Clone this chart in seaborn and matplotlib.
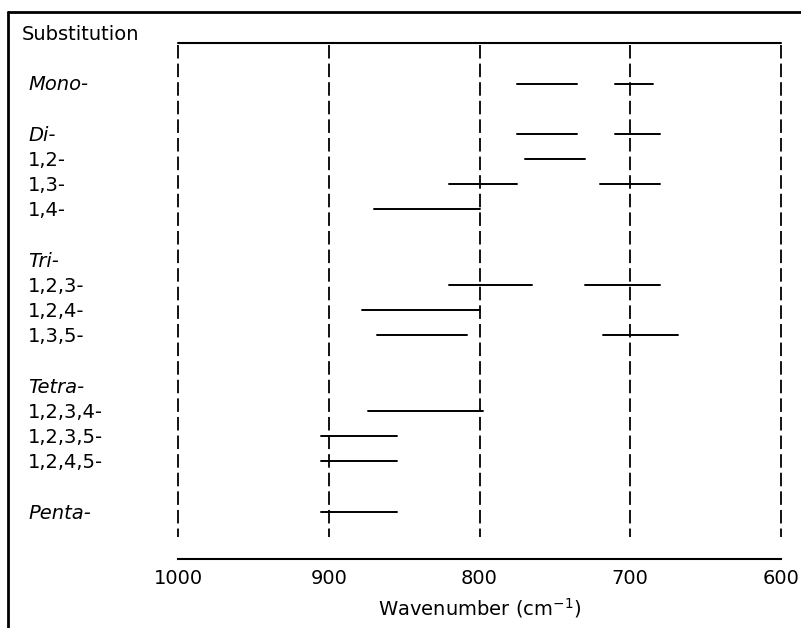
import matplotlib
matplotlib.use("Agg")
import matplotlib.pyplot as plt
import seaborn as sns
import pandas as pd
from matplotlib.lines import Line2D
from matplotlib.transforms import blended_transform_factory

# =========================
# DATA
# =========================
row_labels = ["Substitution", "Mono-", "Di-", "1,2-", "1,3-", "1,4-",
              "Tri-", "1,2,3-", "1,2,4-", "1,3,5-",
              "Tetra-", "1,2,3,4-", "1,2,3,5-", "1,2,4,5-", "Penta-"]
label_rows = [0, 2, 4, 5, 6, 7, 9, 10, 11, 12, 14, 15, 16, 17, 19]
italic_labels = ["Mono-", "Di-", "Tri-", "Tetra-", "Penta-"]

# band ranges (cm-1): row index, high end, low end
seg_rows = [2, 2, 4, 4, 5, 6, 6, 7, 10, 10, 11, 12, 12, 15, 16, 17, 19]
seg_high = [775, 710, 775, 710, 770, 820, 720, 870, 820, 730, 878, 868, 718, 874, 905, 905, 905]
seg_low = [735, 685, 735, 680, 730, 775, 680, 800, 765, 680, 800, 808, 668, 798, 855, 855, 855]

wn_ticks = [1000, 900, 800, 700, 600]

# =========================
# STYLE
# =========================
sns.set_theme(style="white")
plt.rcParams["font.family"] = ["DejaVu Sans"]
plt.rcParams["mathtext.fontset"] = "dejavusans"
plt.rcParams["mathtext.default"] = "regular"

FS = 14

W, H = 801, 628
fig = plt.figure(figsize=(W / 100, H / 100), dpi=100)
ax = fig.add_axes([178 / W, 1 - 559 / H, (781 - 178) / W, (559 - 20) / H])

# long-form table: two points per band segment
records = []
for i, (r, hi, lo) in enumerate(zip(seg_rows, seg_high, seg_low)):
    records.append({"seg": i, "row": r, "wn": hi})
    records.append({"seg": i, "row": r, "wn": lo})
df = pd.DataFrame(records)

sns.lineplot(data=df, x="wn", y="row", units="seg", estimator=None,
             color="black", linewidth=1.4, sort=False, legend=False, ax=ax)

# dashed reference lines and top rule
ax.vlines(wn_ticks, 0.48, 20.0, colors="black", linewidth=1.3,
          linestyles=(0, (7.5, 2.8)), clip_on=False)
ax.axhline(0.4, color="black", linewidth=1.5, clip_on=False)

ax.set_xlim(1000, 600)
ax.set_ylim(20.87, -0.52)
ax.set_xticks(wn_ticks)
ax.set_yticks([])
for side in ["top", "left", "right"]:
    ax.spines[side].set_visible(False)
ax.spines["bottom"].set_color("black")
ax.spines["bottom"].set_linewidth(1.5)
ax.tick_params(axis="x", length=0, pad=7, labelsize=FS, colors="black")
ax.set_xlabel("Wavenumber (cm$^{-1}$)", fontsize=FS, labelpad=6, color="black")
ax.set_ylabel("")

# row labels on the left
trans = blended_transform_factory(fig.transFigure, ax.transData)
for lab, r in zip(row_labels, label_rows):
    x = 22 / W if lab == "Substitution" else 28 / W
    style = "italic" if lab in italic_labels else "normal"
    ax.text(x, r + 0.05, lab, transform=trans, ha="left", va="center",
            fontsize=FS, fontstyle=style, color="black", clip_on=False)

# outer frame (left and top edges visible)
fig.add_artist(Line2D([8 / W, 8 / W], [0, 1 - 12 / H], transform=fig.transFigure,
                      color="black", linewidth=2))
fig.add_artist(Line2D([8 / W, 1], [1 - 12 / H, 1 - 12 / H], transform=fig.transFigure,
                      color="black", linewidth=2))

fig.savefig("out.png", dpi=100)
